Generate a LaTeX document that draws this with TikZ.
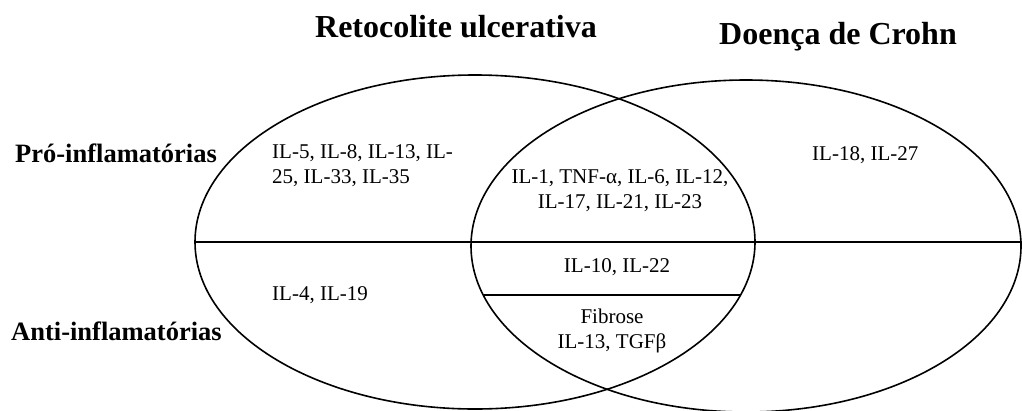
\documentclass[tikz,border=0pt]{standalone}
\usepackage{fontspec}
\setmainfont{Liberation Serif}
\usetikzlibrary{shapes.geometric}
\begin{document}
\begin{tikzpicture}[x=1pt,y=-1pt,
  venn/.style={draw=black, ellipse, line width=1.6pt, inner sep=0pt},
  sep/.style={draw=black, line width=1.6pt},
  titletxt/.style={font=\fontsize{32}{36}\selectfont\bfseries, inner sep=0pt},
  sidetxt/.style={font=\fontsize{26.5}{30}\selectfont\bfseries, inner sep=0pt},
  bodytxt/.style={font=\fontsize{21}{25}\selectfont, inner sep=0pt}]
\useasboundingbox (0,0) rectangle (1022,410);
% ellipses
\node[venn, minimum width=560pt, minimum height=334pt] (rc) at (475,242) {};
\node[venn, minimum width=550pt, minimum height=332pt] (cd) at (746,246) {};
% separators
\coordinate (mainR) at (rc.west -| cd.east);
\draw[sep] (rc.west) -- (mainR);
\coordinate (fibL) at (483.2,295);
\coordinate (fibR) at (740.5,295);
\draw[sep] (fibL) -- (fibR);
% titles
\node[titletxt, anchor=base] (t1) at (456,37) {Retocolite ulcerativa};
\node[titletxt, anchor=base] (t2) at (838,44) {Doença de Crohn};
% side labels
\node[sidetxt, anchor=base west] (pro) at (15,162) {Pró-inflamatórias};
\node[sidetxt, anchor=base west] (anti) at (11,340) {Anti-inflamatórias};
% contents
\node[bodytxt, anchor=west, align=left] (rcpro) at (272,165.5) {IL-5, IL-8, IL-13, IL-\\25, IL-33, IL-35};
\node[bodytxt, align=center] (bothpro) at (620,190.5) {IL-1, TNF-α, IL-6, IL-12,\\IL-17, IL-21, IL-23};
\node[bodytxt, anchor=base west] (cdpro) at (812,160) {IL-18, IL-27};
\node[bodytxt, anchor=base] (bothanti) at (617,272) {IL-10, IL-22};
\node[bodytxt, anchor=base west] (rcanti) at (272,300) {IL-4, IL-19};
\node[bodytxt, align=center] (fib) at (612,330.5) {Fibrose\\IL-13, TGFβ};
\end{tikzpicture}
\end{document}
